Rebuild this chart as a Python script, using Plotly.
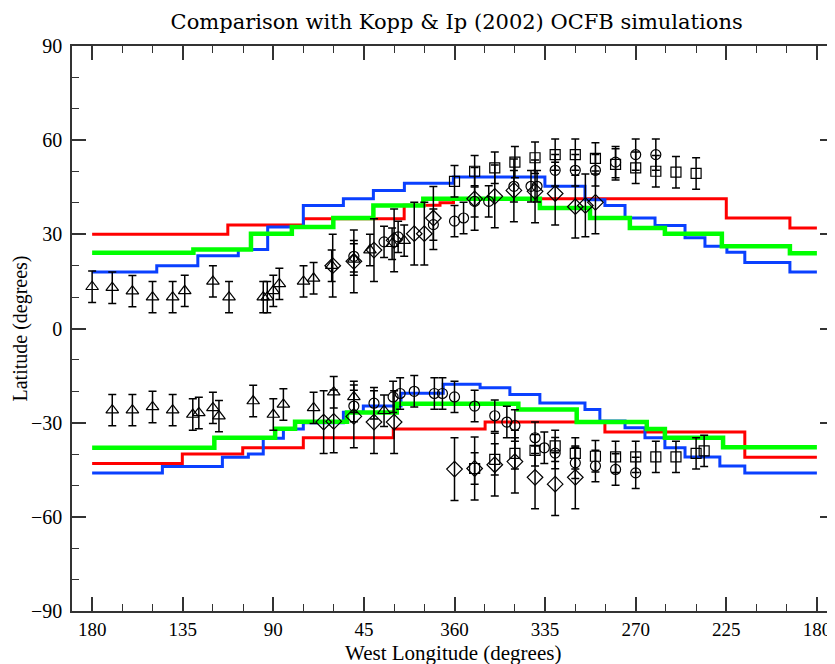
import plotly.graph_objects as go

# ---------------- data (x = position along axis in degrees from left-hand 180 W) ----------------
tick_vals = [0, 45, 90, 135, 180, 225, 270, 315, 360]
tick_text = ["180", "135", "90", "45", "360", "335", "270", "225", "180"]

# step-line models: bin edges and latitude in each bin
red_n_edges = [0, 67.4, 105, 155, 172.8, 179.5, 315, 346.6, 360]
red_n_vals = [30, 33, 35, 39.3, 40.1, 41.3, 35.2, 32]
blue_n_edges = [0, 32.1, 52.5, 72.6, 87.2, 104.9, 124.8, 139.7, 155.1, 179.4, 224.9,
                244.8, 254.7, 264.7, 279.6, 294.5, 304.4, 315.3, 324.2, 346.6, 360]
blue_n_vals = [18, 20, 23.2, 25.2, 32.3, 39.2, 41.3, 44, 46.3, 48.3, 45.3,
               41, 39.2, 35.2, 32.8, 28.9, 26.2, 24.3, 21, 18]
green_n_edges = [0, 50.3, 78.9, 99.2, 119.8, 139.7, 164.5, 222.4, 247.3, 267.1, 284.5,
                 312.8, 346.6, 360]
green_n_vals = [24.1, 25.2, 30.2, 32.3, 35.2, 39.2, 41.3, 38.4, 35.2, 32, 30.2, 26.2, 24]

red_s_edges = [0, 44.8, 74.8, 104.9, 149.6, 195.2, 254.7, 324.2, 360]
red_s_vals = [-43, -40, -38, -34.8, -32, -29.8, -33, -41]
blue_s_edges = [0, 34.9, 64.7, 77.6, 85, 95, 104.9, 124.8, 134.7, 153.4, 174.4, 192.7,
                207.5, 222.4, 244.8, 252.2, 264.7, 274.6, 284.5, 294.5, 311.8, 324.2, 360]
blue_s_vals = [-46, -44, -41, -40, -35, -32, -30, -26.7, -24.7, -20.6, -17.8, -18.9,
               -21, -23.7, -25.8, -29.5, -31.6, -34.8, -38, -40.9, -43.8, -46]
green_s_edges = [0, 60.7, 90.9, 100.8, 126.6, 151.3, 211.7, 240.7, 275.5, 284.5, 313.4, 360]
green_s_vals = [-38, -34.8, -31.9, -29.7, -26.8, -24, -25.8, -29.8, -32, -34.8, -37.8]

# observations
tri_x = [0, 10, 20, 30, 40, 46, 60, 68, 85, 87, 90, 93, 105, 110, 119, 130, 138, 149, 155,
         10, 20, 30, 40, 50, 53, 60, 63, 80, 90, 95, 110, 120, 130, 145]
tri_y = [13.3, 13, 11.9, 10, 10, 12, 15, 10, 10, 10, 12, 14.2, 15, 16, 20, 22, 25, 27, 28,
         -26, -26, -25, -26, -27.4, -26.9, -25.3, -27.9, -23.1, -27.4, -24.2, -25.3, -20.3,
         -21.8, -26.2]
tri_err = 5

circ_x = [130, 145, 152, 169.5, 180, 184.5, 190, 197, 209.5, 218, 221, 230, 240, 250, 260,
          270, 280,
          130, 140, 149.5, 153, 160, 170, 174, 180, 190, 200, 206, 210, 220, 224.6, 230, 240,
          250, 260, 270]
circ_y = [23, 27.6, 29.2, 33.1, 34.2, 35.2, 40.5, 40.5, 45.3, 45.3, 45.3, 50.4, 50.4, 50.4,
          53, 55.4, 55.4,
          -24.7, -23.8, -21.8, -20.7, -20, -20.7, -20.7, -21.8, -24.7, -27.8, -29.8, -30.9,
          -34.8, -38, -39.7, -42.8, -43.8, -44.9, -46]
circ_err = 5

diam_x = [119.5, 130, 140, 150, 160, 165, 169.5, 190, 200, 209.5, 220, 230, 240, 245, 250,
          115, 120, 130, 140, 150, 180, 190, 200, 210, 220, 230, 240]
diam_y = [20, 21.4, 25, 28.1, 30.2, 30.2, 35.2, 41.3, 42.1, 44, 43.7, 43, 38.8, 39.2, 40.2,
          -29.8, -29.6, -28, -29.8, -29.8, -44.8, -44.6, -43.4, -42.4, -47.4, -49.6, -47.4]
diam_err = 10

sq_x = [180, 190, 200, 210, 220, 230, 240, 250, 260, 270, 280, 290, 300,
        190, 200, 210, 220, 230, 240, 250, 260, 270, 280, 290, 300, 304]
sq_y = [46.9, 50.1, 51.2, 53, 54.4, 55.4, 55.4, 54.2, 52.3, 51.2, 50.1, 49.8, 49.4,
        -44.6, -41.7, -39.8, -38.8, -37.4, -39.8, -40.7, -40.9, -40.9, -40.9, -40.9, -39.8, -39]
sq_err = 5

# ---------------- figure ----------------
FONT = "Liberation Serif"
RED, BLUE, GREEN = "#ff0000", "#0a40ff", "#00ff00"

fig = go.Figure()


def step(edges, vals, color, width):
    fig.add_trace(go.Scatter(x=edges, y=vals + [vals[-1]], mode="lines",
                             line=dict(shape="hv", color=color, width=width),
                             hoverinfo="skip"))


step(red_n_edges, red_n_vals, RED, 3)
step(red_s_edges, red_s_vals, RED, 3)
step(blue_n_edges, blue_n_vals, BLUE, 3)
step(blue_s_edges, blue_s_vals, BLUE, 3)
step(green_n_edges, green_n_vals, GREEN, 4.5)
step(green_s_edges, green_s_vals, GREEN, 4.5)


def pts(x, y, err, symbol, size):
    fig.add_trace(go.Scatter(
        x=x, y=y, mode="markers",
        marker=dict(symbol=symbol, size=size, color="black", line=dict(color="black", width=1.2)),
        error_y=dict(type="constant", value=err, color="black", thickness=1.5, width=4),
    ))


pts(tri_x, tri_y, tri_err, "triangle-up-open", 11)
pts(circ_x, circ_y, circ_err, "circle-open", 10)
pts(diam_x, diam_y, diam_err, "diamond-open", 12)
pts(sq_x, sq_y, sq_err, "square-open", 10)

# the page body adds an 8px offset; figure is sized to fit inside the 835x664 window
W, H = 827, 656
axis_col = "#333333"
fig.update_layout(
    width=W, height=H,
    margin=dict(l=64, r=1, t=38, b=53, autoexpand=False),
    paper_bgcolor="white", plot_bgcolor="white",
    showlegend=False,
    font=dict(family=FONT, color="black"),
    title=dict(text="Comparison with Kopp & Ip (2002) OCFB simulations",
               x=0.5425, xanchor="center", y=1 - 14 / H, yanchor="middle",
               font=dict(family="DejaVu Serif", size=21, color="black")),
    xaxis=dict(range=[-10, 368.5], tickmode="array", tickvals=tick_vals, ticktext=tick_text,
               automargin=False,
               ticks="inside", ticklen=14, tickwidth=1.5, tickcolor=axis_col,
               showline=True, linecolor=axis_col, linewidth=1.5, mirror="allticks",
               showgrid=False, zeroline=False,
               minor=dict(ticks="inside", ticklen=7, tickwidth=1.2, tickcolor=axis_col,
                          tick0=0, dtick=15, showgrid=False),
               tickfont=dict(family=FONT, size=19, color="black")),
    yaxis=dict(range=[-90, 90], tickmode="linear", tick0=-90, dtick=30,
               automargin=False, ticklabelstandoff=4,
               ticks="inside", ticklen=14, tickwidth=1.5, tickcolor=axis_col,
               showline=True, linecolor=axis_col, linewidth=1.5, mirror="allticks",
               showgrid=False, zeroline=False,
               minor=dict(ticks="inside", ticklen=7, tickwidth=1.2, tickcolor=axis_col,
                          tick0=0, dtick=10, showgrid=False),
               tickfont=dict(family=FONT, size=20, color="black")),
    annotations=[
        dict(text="West Longitude (degrees)", xref="paper", yref="paper", x=0.5, y=0,
             xanchor="center", yanchor="middle", yshift=-42, showarrow=False,
             font=dict(family=FONT, size=21, color="black")),
        dict(text="Latitude (degrees)", xref="paper", yref="paper", x=0, y=0.5,
             xanchor="center", yanchor="middle", xshift=-52, textangle=-90, showarrow=False,
             font=dict(family=FONT, size=20, color="black")),
    ],
)

fig.write_html("out.html")
